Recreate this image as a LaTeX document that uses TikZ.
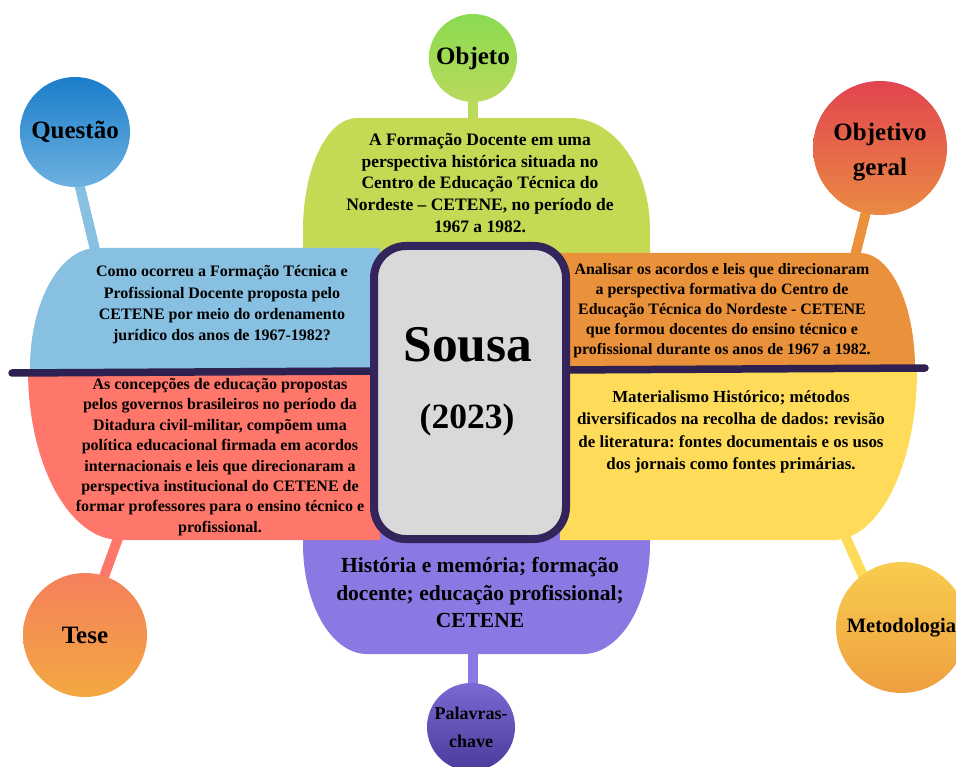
\documentclass[tikz,border=0pt]{standalone}
\usepackage{fontspec}
\setmainfont{Liberation Serif}
\frenchspacing
\definecolor{cgreen}{HTML}{C6D955}
\definecolor{cblue}{HTML}{87C0E0}
\definecolor{corange}{HTML}{EA913B}
\definecolor{cred}{HTML}{FF776B}
\definecolor{cyellow}{HTML}{FEDC5A}
\definecolor{cpurple}{HTML}{8B78E3}
\definecolor{boxf}{HTML}{D9D9D9}
\definecolor{boxb}{HTML}{33245C}
\definecolor{linec}{HTML}{2E2152}
\definecolor{objT}{HTML}{8ADB50}
\definecolor{objB}{HTML}{B9DA5C}
\definecolor{queT}{HTML}{1B7ECB}
\definecolor{queB}{HTML}{6DB1DF}
\definecolor{ogT}{HTML}{E2444E}
\definecolor{ogB}{HTML}{EA8A44}
\definecolor{teT}{HTML}{F5805C}
\definecolor{teB}{HTML}{F3A841}
\definecolor{meT}{HTML}{F8CC4E}
\definecolor{meB}{HTML}{EE9F40}
\definecolor{paT}{HTML}{7B68D2}
\definecolor{paB}{HTML}{4B3B9B}
\tikzset{
  stem/.style={line width=10pt},
  bubble/.style={circle, inner sep=0pt, align=center},
  body/.style={align=center, inner sep=0pt, font=\fontsize{16}{20.5}\selectfont\bfseries},
  shp/.style={draw=none}
}
\begin{document}
\begin{tikzpicture}[x=1pt,y=-1pt]
\useasboundingbox (0,0) rectangle (956,767);
% circle centres and stem ends
\coordinate (qs1) at (77,175);  \coordinate (qs2) at (97,258);
\coordinate (os1) at (473,80);  \coordinate (os2) at (473,130);
\coordinate (gs1) at (869,200); \coordinate (gs2) at (852,268);
\coordinate (ts1) at (121,530); \coordinate (ts2) at (101,585);
\coordinate (ms1) at (838,520); \coordinate (ms2) at (868,587);
\coordinate (ps1) at (473,640); \coordinate (ps2) at (473,700);
% stems
\draw[stem, cblue] (qs1) -- (qs2);
\draw[stem, objB] (os1) -- (os2);
\draw[stem, corange] (gs1) -- (gs2);
\draw[stem, cred] (ts1) -- (ts2);
\draw[stem, cyellow] (ms1) -- (ms2);
\draw[stem, cpurple] (ps1) -- (ps2);
% big shapes
\fill[cgreen] (303,385) -- (303,230) .. controls (303,168.1) and (327.2,118) .. (357,118)
  -- (570,118) .. controls (614.2,118) and (650,168.1) .. (650,230) -- (650,385) -- cycle;
\fill[cpurple] (303,495) -- (303,544) .. controls (303,604.8) and (331.7,654) .. (367,654)
  -- (583,654) .. controls (620,654) and (650,604.8) .. (650,544) -- (650,495) -- cycle;
\fill[cblue] (380,374) -- (380,248) -- (97,248) .. controls (60,248) and (30,301.7) .. (30,368)
  -- (30,374) -- cycle;
\fill[corange] (560,374) -- (560,253) -- (860,253) .. controls (890.4,253) and (915,304.5) .. (915,368)
  -- (915,374) -- cycle;
\fill[cred] (380,370) -- (28,370) .. controls (28,464.3) and (69.2,540) .. (120,540)
  -- (380,540) -- cycle;
\fill[cyellow] (560,370) -- (917,370) .. controls (917,464.3) and (879.4,540) .. (833,540)
  -- (560,540) -- cycle;
% divider line
\coordinate (lineL) at (12,373);
\coordinate (lineR) at (925,368);
\draw[line width=7.5pt, line cap=round, linec] (lineL) -- (lineR);
% centre box
\node[draw=boxb, line width=8pt, fill=boxf, rounded corners=32pt, minimum width=192pt,
  minimum height=293pt, inner sep=0pt] (box) at (470,392.5) {};
\node[inner sep=0pt, font=\fontsize{51.5}{56}\selectfont\bfseries] (sousa) at (468,345) {Sousa};
\node[inner sep=0pt, font=\fontsize{35.5}{40}\selectfont\bfseries] (ano) at (467,420) {(2023)};
% circles
\node[bubble, minimum size=88pt, top color=objT, bottom color=objB,
  font=\fontsize{25}{30}\selectfont\bfseries] (objeto) at (473,58) {Objeto};
\node[bubble, minimum size=110pt, top color=queT, bottom color=queB,
  font=\fontsize{25}{30}\selectfont\bfseries] (questao) at (75,132) {Questão};
\node[bubble, minimum size=134pt, top color=ogT, bottom color=ogB] (objetivo) at (880,148) {};
\node[inner sep=0pt, align=center, font=\fontsize{25}{35}\selectfont\bfseries] (objetivot) at (880,152) {Objetivo\\geral};
\node[bubble, minimum size=124pt, top color=teT, bottom color=teB,
  font=\fontsize{25}{30}\selectfont\bfseries] (tese) at (85,635) {Tese};
\node[bubble, minimum size=131pt, top color=meT, bottom color=meB,
  font=\fontsize{20.5}{25}\selectfont\bfseries] (metodo) at (901.5,627.5) {Metodologia};
\node[bubble, minimum size=88pt, top color=paT, bottom color=paB,
  font=\fontsize{18}{28}\selectfont\bfseries] (palavras) at (471,727) {Palavras-\\chave};
% texts
\node[body, font=\fontsize{17.5}{21.8}\selectfont\bfseries] (tobj) at (480,183)
  {A Formação Docente em uma\\perspectiva histórica situada no\\Centro de Educação Técnica do\\Nordeste – CETENE, no período de\\1967 a 1982.};
\node[body, font=\fontsize{16}{21.3}\selectfont\bfseries] (tque) at (222,305)
  {Como ocorreu a Formação Técnica e\\Profissional Docente proposta pelo\\CETENE por meio do ordenamento\\jurídico dos anos de 1967-1982?};
\node[body, font=\fontsize{15.9}{20}\selectfont\bfseries] (tog) at (722,311)
  {Analisar os acordos e leis que direcionaram\\a perspectiva formativa do Centro de\\Educação Técnica do Nordeste - CETENE\\que formou docentes do ensino técnico e\\profissional durante os anos de 1967 a 1982.};
\node[body, font=\fontsize{16}{20.4}\selectfont\bfseries] (ttes) at (220,457)
  {As concepções de educação propostas\\pelos governos brasileiros no período da\\Ditadura civil-militar, compõem uma\\política educacional firmada em acordos\\internacionais e leis que direcionaram a\\perspectiva institucional do CETENE de\\formar professores para o ensino técnico e\\profissional.};
\node[body, font=\fontsize{16.9}{22.3}\selectfont\bfseries] (tmet) at (731,432)
  {Materialismo Histórico; métodos\\diversificados na recolha de dados: revisão\\de literatura: fontes documentais e os usos\\dos jornais como fontes primárias.};
\node[body, font=\fontsize{21.5}{27.5}\selectfont\bfseries] (tpal) at (480,593)
  {História e memória; formação\\docente; educação profissional;\\CETENE};
\end{tikzpicture}
\end{document}
